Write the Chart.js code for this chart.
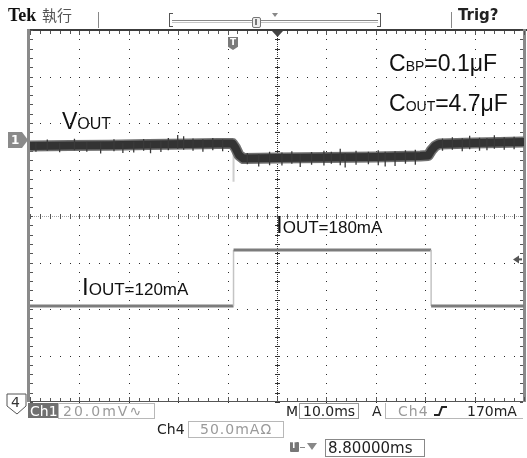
<!DOCTYPE html>
<html>
<head>
<meta charset="utf-8">
<script src="https://cdn.jsdelivr.net/npm/chart.js@4.4.1/dist/chart.umd.min.js"></script>
<style>
  html, body { margin: 0; padding: 0; background: #fff; }
  #wrap { position: relative; width: 527px; height: 458px; overflow: hidden; background: #fff; }
  #scope { position: absolute; left: 0; top: 0; }
  .t { position: absolute; white-space: nowrap; line-height: 1; }
  .lbl { font-family: "Liberation Sans", Arial, sans-serif; color: #111; }
  .st { font-family: "DejaVu Sans", sans-serif; font-size: 14px; color: #222; }
  .box { position: absolute; box-sizing: border-box; border: 1px solid #b8b8b8; }
  .gray { color: #9a9a9a; }
</style>
</head>
<body>
<div id="wrap">
  <canvas id="scope" width="527" height="458"></canvas>

  <!-- header -->
  <div class="t" style="left:8px;top:6px;font-family:'Liberation Serif',serif;font-weight:bold;font-size:18px;color:#111;">Tek</div>
  <div class="t" style="left:42px;top:7px;font-family:'Noto Sans CJK TC',sans-serif;font-size:15px;color:#555;">執行</div>
  <div style="position:absolute;left:98px;top:12px;width:1px;height:16px;background:#888;"></div>
  <div style="position:absolute;left:169px;top:13px;width:3px;height:12px;border:1px solid #555;border-right:none;"></div>
  <div style="position:absolute;left:377px;top:13px;width:3px;height:12px;border:1px solid #555;border-left:none;"></div>
  <div style="position:absolute;left:172px;top:20px;width:206px;height:1px;border-top:1px solid #888;border-bottom:1px solid #c4c4c4;"></div>
  <div style="position:absolute;left:252px;top:17px;width:7px;height:9px;border:1px solid #777;border-radius:2px;background:#eee;"></div>
  <div style="position:absolute;left:255px;top:19px;width:2px;height:6px;background:#777;"></div>
  <div style="position:absolute;left:272px;top:13px;width:0;height:0;border-left:3px solid transparent;border-right:3px solid transparent;border-top:4px solid #888;"></div>
  <div style="position:absolute;left:451px;top:12px;width:1px;height:16px;background:#888;"></div>
  <div class="t" style="left:458px;top:8px;font-family:'DejaVu Sans',sans-serif;font-weight:bold;font-size:15px;color:#222;">Trig?</div>

  <!-- channel / trigger markers -->
  <div style="position:absolute;left:8px;top:132px;width:20px;height:16px;background:#8a8a8a;clip-path:polygon(0 0,70% 0,100% 50%,70% 100%,0 100%);"></div>
  <div class="t" style="left:11px;top:134px;font-family:'DejaVu Sans',sans-serif;font-weight:bold;font-size:12px;color:#fff;">1</div>
  <div style="position:absolute;left:228px;top:37px;width:10px;height:13px;background:#7a7a7a;clip-path:polygon(0 0,100% 0,100% 75%,50% 100%,0 75%);"></div>
  <div class="t" style="left:230px;top:38px;font-family:'DejaVu Sans',sans-serif;font-weight:bold;font-size:9px;color:#fff;">T</div>
  <svg style="position:absolute;left:6px;top:393px;" width="24" height="22">
    <polygon points="1,1 20,1 20,13 11,21 1,13" fill="#fff" stroke="#555" stroke-width="1"/>
    <text x="5" y="14" font-family="DejaVu Sans" font-size="14" fill="#333">4</text>
  </svg>

  <!-- annotations -->
  <div class="t lbl" style="left:62px;top:110px;font-size:23px;">V<span style="font-size:16px;">OUT</span></div>
  <div class="t lbl" style="left:389px;top:52px;font-size:23px;">C<span style="font-size:14px;">BP</span>=0.1μF</div>
  <div class="t lbl" style="left:389px;top:92px;font-size:23px;">C<span style="font-size:14px;">OUT</span>=4.7μF</div>
  <div class="t lbl" style="left:276px;top:213px;font-size:24px;">I<span style="font-size:17px;">OUT=180mA</span></div>
  <div class="t lbl" style="left:82px;top:275px;font-size:24px;">I<span style="font-size:17px;">OUT=120mA</span></div>

  <!-- status line -->
  <div style="position:absolute;left:28px;top:403px;width:30px;height:15px;background:#707070;"></div>
  <div class="t st" style="left:30px;top:404px;color:#fff;">Ch1</div>
  <div class="box" style="left:58px;top:403px;width:97px;height:16px;"></div>
  <div class="t st gray" style="left:63px;top:404px;letter-spacing:2px;">20.0mV∿</div>
  <div class="t st" style="left:286px;top:404px;">M</div>
  <div class="box" style="left:299px;top:403px;width:60px;height:16px;border-color:#999;"></div>
  <div class="t st" style="left:303px;top:404px;">10.0ms</div>
  <div class="t st" style="left:372px;top:404px;">A</div>
  <div class="box" style="left:385px;top:403px;width:138px;height:16px;border-right:none;border-top:none;"></div>
  <div class="t st gray" style="left:398px;top:404px;letter-spacing:1px;">Ch4</div>
  <svg style="position:absolute;left:433px;top:405px;" width="16" height="12">
    <polyline points="1,10 6,10 9,2 14,2" fill="none" stroke="#222" stroke-width="2"/>
  </svg>
  <div class="t st" style="left:467px;top:404px;">170mA</div>
  <div class="t st" style="left:157px;top:422px;">Ch4</div>
  <div class="box" style="left:188px;top:421px;width:96px;height:17px;"></div>
  <div class="t st gray" style="left:200px;top:422px;letter-spacing:1px;">50.0mAΩ</div>
  <div style="position:absolute;left:290px;top:442px;width:9px;height:10px;background:#777;border-radius:1px;"></div>
  <div class="t" style="left:291px;top:442px;font-family:'DejaVu Sans',sans-serif;font-weight:bold;font-size:8px;color:#fff;">T</div>
  <div style="position:absolute;left:300px;top:447px;width:5px;height:1px;background:#888;"></div>
  <div style="position:absolute;left:307px;top:443px;width:0;height:0;border-left:5px solid transparent;border-right:5px solid transparent;border-top:7px solid #888;"></div>
  <div class="box" style="left:325px;top:439px;width:100px;height:18px;border-color:#888;"></div>
  <div class="t st" style="left:328px;top:441px;font-size:15px;">8.80000ms</div>
</div>

<script>
// screen time in ms (10.0 ms/div, 10 div across the screen)
const voutTime = [0, 8, 16, 24, 32, 38, 41.0, 41.6, 42.3, 43.2, 50, 60, 70, 79, 80.6, 81.3, 82.0, 82.8, 90, 100];
// Ch1 V_OUT, AC coupled, mV
const voutMv = [-2.6, -2.4, -2.2, -1.9, -1.7, -1.5, -1.5, -3.4, -6.5, -8.0, -7.7, -7.5, -7.3, -6.9, -6.7, -4.3, -2.6, -1.7, -1.3, -0.9];

// noise spikes on V_OUT (time, low, high in mV)
const spikeTime = [1.2, 3.5, 6.0, 9.0, 11.5, 14.3, 17.0, 18.8, 21.0, 23.0, 24.4, 26.5, 28.0, 29.9, 31.1, 33.0, 35.0, 37.0, 39.0,
  44.0, 46.3, 48.5, 51.0, 53.0, 54.7, 57.0, 59.5, 61.0, 62.8, 63.8, 66.0, 68.5, 70.5, 71.9, 73.9, 76.0, 78.0,
  83.5, 85.5, 87.5, 89.0, 91.0, 92.5, 94.0, 96.0, 98.0];
const spikeLow = [-5.0, -4.6, -5.3, -4.4, -5.0, -5.8, -4.8, -5.6, -5.4, -4.6, -5.7, -5.2, -4.4, -3.8, -4.2, -4.6, -5.0, -4.4, -4.8,
  -10.4, -11.4, -10.8, -11.0, -10.2, -11.6, -10.6, -11.0, -10.2, -10.8, -11.8, -10.6, -10.4, -10.8, -11.4, -11.2, -10.2, -10.6,
  -4.6, -4.2, -4.8, -4.0, -4.6, -4.4, -3.8, -4.2, -4.0];
const spikeHigh = [-1.0, 0.2, -1.2, 0.5, -0.8, -1.0, 0.3, -1.4, -0.6, 0.4, -1.0, -0.5, 0.9, 2.2, 1.6, 0.7, 0.3, 0.9, 0.2,
  -5.6, -6.0, -5.0, -5.4, -4.8, -6.0, -5.2, -4.6, -5.0, -3.8, -5.6, -4.6, -5.0, -4.4, -5.0, -4.8, -4.4, -4.2,
  0.6, 1.2, 0.8, 1.8, 1.0, 0.8, 2.0, 1.2, 1.4];

// faint Ch1 glitch at the load step
const glitchTime = [41.2, 41.2];
const glitchMv = [-5.2, -18];

// Ch4 I_OUT, mA
const ioutTime = [0, 41.2, 41.2, 81.2, 81.2, 100];
const ioutMa = [120, 120, 180, 180, 120, 120];

const ch1MvPerDiv = 20, ch1Pos = 1.634;
const ch4MaPerDiv = 50, ch4Pos = -4.333;
const trigLevelMa = 170;

const ch1 = v => v / ch1MvPerDiv + ch1Pos;
const ch4 = v => v / ch4MaPerDiv + ch4Pos;

const voutPts = voutTime.map((t, i) => ({ x: t, y: ch1(voutMv[i]) }));
const spikePts = [];
spikeTime.forEach((t, i) => {
  spikePts.push({ x: t, y: ch1(spikeLow[i]) }, { x: t, y: ch1(spikeHigh[i]) }, { x: t, y: null });
});
const glitchPts = glitchTime.map((t, i) => ({ x: t, y: ch1(glitchMv[i]) }));
const ioutPts = ioutTime.map((t, i) => ({ x: t, y: ch4(ioutMa[i]) }));

// scope graticule: dotted divisions, ticked centre cross, ticked frame
const graticule = {
  id: 'graticule',
  beforeDatasetsDraw(chart) {
    const { ctx, chartArea: a, scales: { x, y } } = chart;
    const px = v => Math.round(x.getPixelForValue(v));
    const py = v => Math.round(y.getPixelForValue(v));
    ctx.save();
    ctx.fillStyle = '#2a2a2a';
    for (let t = 10; t < 100; t += 10) {
      if (t === 50) continue;
      for (let d = -20; d <= 20; d++) ctx.fillRect(px(t), py(d / 5), 1, 1);
    }
    for (let d = -3; d <= 3; d++) {
      if (d === 0) continue;
      for (let k = 0; k <= 50; k++) ctx.fillRect(px(k * 2), py(d), 1, 1);
    }
    // centre vertical
    const cx = px(50), cy = py(0);
    ctx.fillStyle = '#333';
    for (let yy = a.top; yy < a.bottom; yy += 2) ctx.fillRect(cx, yy, 1, 1);
    for (let d = -20; d <= 20; d++) ctx.fillRect(cx - 2, py(d / 5), 5, 1);
    // centre horizontal
    ctx.fillStyle = '#a0a0a0';
    for (let xx = a.left; xx < a.right; xx += 2) ctx.fillRect(xx, cy, 1, 1);
    ctx.fillStyle = '#555';
    for (let k = 0; k <= 50; k++) ctx.fillRect(px(k * 2), cy - 2, 1, 5);
    // frame
    ctx.fillStyle = '#3c3c3c';
    ctx.fillRect(a.left - 3, a.top - 1, a.right - a.left + 6, 2);
    ctx.fillStyle = '#555';
    ctx.fillRect(a.left, a.bottom - 1, a.right - a.left, 1);
    ctx.fillStyle = '#8a8a8a';
    ctx.fillRect(a.left - 3, a.top - 1, 3, a.bottom - a.top + 1);
    ctx.fillRect(a.right - 1, a.top - 1, 3, a.bottom - a.top + 1);
    ctx.fillStyle = '#555';
    for (let k = 0; k <= 50; k++) {
      const len = k % 5 === 0 ? 4 : 3;
      ctx.fillRect(px(k * 2), a.top + 1, 1, len);
      ctx.fillRect(px(k * 2), a.bottom - 1 - len, 1, len);
    }
    for (let d = -20; d <= 20; d++) {
      ctx.fillRect(a.left, py(d / 5), 3, 1);
      ctx.fillRect(a.right - 4, py(d / 5), 3, 1);
    }
    // expansion point marker and trigger level arrow
    ctx.fillStyle = '#444';
    ctx.beginPath();
    ctx.moveTo(cx - 5, a.top + 1); ctx.lineTo(cx + 6, a.top + 1); ctx.lineTo(cx + 0.5, a.top + 7);
    ctx.fill();
    const ty = y.getPixelForValue(ch4(trigLevelMa));
    ctx.fillStyle = '#555';
    ctx.beginPath();
    ctx.moveTo(a.right - 11, ty); ctx.lineTo(a.right - 5, ty - 4); ctx.lineTo(a.right - 5, ty + 4);
    ctx.fill();
    ctx.fillRect(a.right - 6, ty - 1, 4, 2);
    ctx.restore();
  }
};

// lower dataset index is painted on top
new Chart(document.getElementById('scope'), {
  type: 'line',
  data: {
    datasets: [
      { data: spikePts, borderColor: '#3a3a3a', borderWidth: 1.3, spanGaps: false },
      { data: voutPts, borderColor: '#333', borderWidth: 8, borderJoinStyle: 'round' },
      { data: voutPts, borderColor: '#707070', borderWidth: 11, borderJoinStyle: 'round' },
      { data: glitchPts, borderColor: '#cfcfcf', borderWidth: 2 },
      { data: ioutPts, borderColor: '#7c7c7c', borderWidth: 3,
        segment: {
          borderColor: c => c.p0.parsed.x === c.p1.parsed.x ? '#c4c4c4' : '#7c7c7c',
          borderWidth: c => c.p0.parsed.x === c.p1.parsed.x ? 1.5 : 3
        } }
    ]
  },
  options: {
    responsive: false,
    animation: false,
    events: [],
    layout: { padding: { left: 30, right: 3, top: 30, bottom: 56 } },
    elements: { point: { radius: 0 }, line: { tension: 0, fill: false } },
    plugins: { legend: { display: false }, tooltip: { enabled: false } },
    scales: {
      x: { type: 'linear', display: false, min: 0, max: 100 },
      y: { type: 'linear', display: false, min: -4, max: 4 }
    }
  },
  plugins: [graticule]
});
</script>
</body>
</html>
